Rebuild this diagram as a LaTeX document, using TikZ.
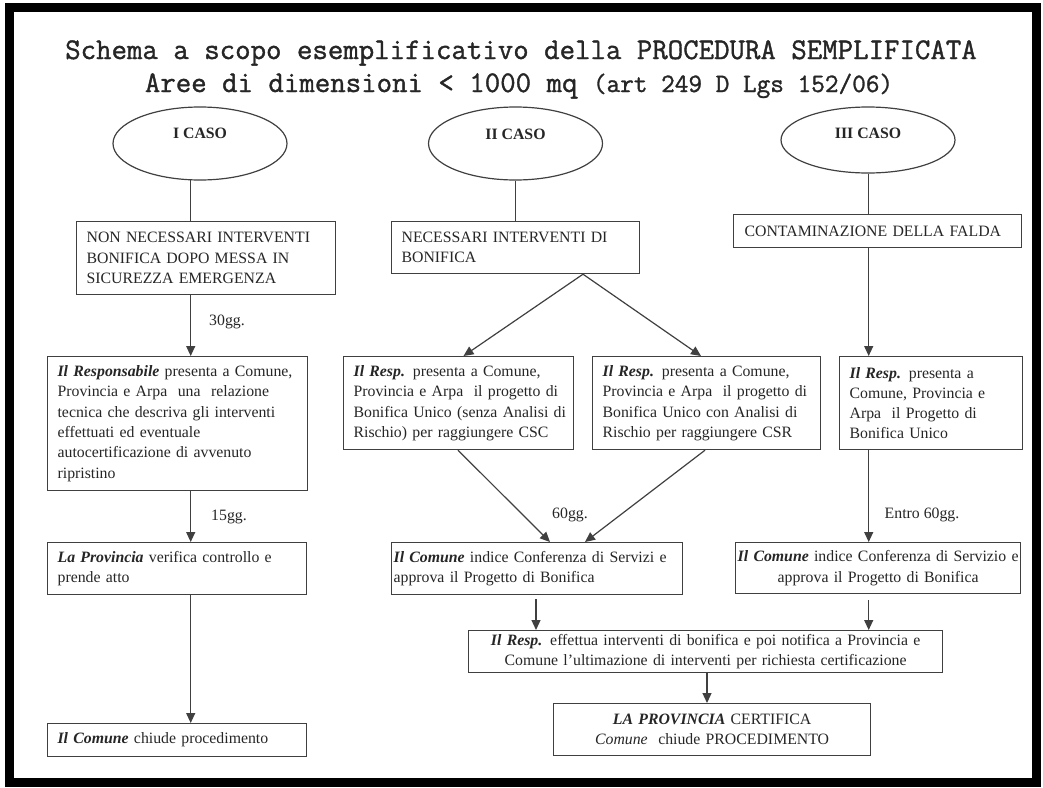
\documentclass[tikz,border=0pt]{standalone}
\usepackage{fontspec}
\setmainfont{Liberation Serif}
\newfontfamily\titlefont[FakeBold=1.2]{Latin Modern Mono}
\usetikzlibrary{arrows.meta,shapes.geometric}
\newcommand\rl[1]{\mbox{#1}}
\newcommand\bi[1]{\textbf{\textit{#1}}}
\begin{document}
\begin{tikzpicture}[x=1pt,y=-1pt,
  every node/.style={text=black!85},
  ln/.style={draw=black!75, line width=1.2pt},
  arr/.style={ln, -{Triangle[length=10pt,width=9pt]}},
  pbox/.style={draw=black!75, line width=1.2pt, rectangle, anchor=north west, inner xsep=10pt, inner ysep=0pt, align=left, font=\fontsize{15.8}{20.3}\selectfont},
  cbox/.style={pbox, align=center},
  oval/.style={draw=black!75, line width=1.2pt, ellipse, minimum width=174pt, minimum height=73pt, inner sep=0pt, font=\fontsize{15.8}{19}\selectfont\bfseries},
  lbl/.style={font=\fontsize{15.8}{19}\selectfont, inner sep=0pt},
  ttl/.style={anchor=base, inner sep=0pt, font=\titlefont\fontsize{30}{34}\selectfont}
]
\useasboundingbox (0,0) rectangle (1043,787);
\fill[white] (0,0) rectangle (1043,787);
\draw[line width=9pt] (9,7.5) rectangle (1036,782);

% title
\node[ttl] (t1) at (521,59) {Schema a scopo esemplificativo della PROCEDURA SEMPLIFICATA};
\node[ttl] (t2) at (519,92) {Aree di dimensioni < 1000 mq {\fontsize{26.5}{28}\selectfont(art 249 D Lgs 152/06)}};

% ovals
\node[oval] (o1) at (200,143.5) {\smash{\raisebox{4.7pt}{I CASO}}};
\node[oval] (o2) at (515.5,143.5) {\smash{\raisebox{3.7pt}{II CASO}}};
\node[oval, minimum height=66pt] (o3) at (868,140) {\smash{\raisebox{1.7pt}{III CASO}}};

% column I
\node[pbox, text width=239pt, minimum height=73pt] (b1) at (76,221)
  {\rl{NON NECESSARI INTERVENTI}\\\rl{BONIFICA DOPO MESSA IN}\\\rl{SICUREZZA EMERGENZA}};
\node[pbox, text width=240pt, minimum height=134pt] (b2) at (47,356)
  {\rl{\bi{Il Responsabile} presenta a Comune,}\\\rl{Provincia e Arpa\ \ una\ \ relazione}\\\rl{tecnica che descriva gli interventi}\\\rl{effettuati ed eventuale}\\\rl{autocertificazione di avvenuto}\\\rl{ripristino}};
\node[pbox, text width=239pt, minimum height=52pt] (b3) at (47,542)
  {\rl{\bi{La Provincia} verifica controllo e}\\\rl{prende atto}};
\node[pbox, text width=239pt, minimum height=33pt] (b4) at (47,723)
  {\rl{\bi{Il Comune} chiude procedimento}};

% column II
\node[pbox, text width=228pt, minimum height=52pt] (c1) at (391,221)
  {\rl{NECESSARI INTERVENTI DI}\\\rl{BONIFICA}};
\node[pbox, text width=210pt, minimum height=93pt] (c2) at (343,356)
  {\rl{\bi{Il Resp.} presenta a Comune,}\\\rl{Provincia e Arpa\ \ il progetto di}\\\rl{Bonifica Unico (senza Analisi di}\\\rl{Rischio) per raggiungere CSC}};
\node[pbox, text width=208pt, minimum height=93pt] (c3) at (592,356)
  {\rl{\bi{Il Resp.} presenta a Comune,}\\\rl{Provincia e Arpa\ \ il progetto di}\\\rl{Bonifica Unico con Analisi di}\\\rl{Rischio per raggiungere CSR}};
\node[pbox, inner xsep=2pt, text width=287pt, minimum height=52pt] (c4) at (391,542)
  {\rl{\bi{Il Comune} indice Conferenza di Servizi e}\\\rl{approva il Progetto di Bonifica}};

% column III
\node[pbox, inner xsep=11pt, text width=266pt, minimum height=33pt] (d1) at (733,214)
  {\rl{CONTAMINAZIONE DELLA FALDA}};
\node[pbox, text width=163pt, minimum height=93pt] (d2) at (839,356)
  {\rl{\bi{Il Resp.} presenta a}\\\rl{Comune, Provincia e}\\\rl{Arpa\ \ il Progetto di}\\\rl{Bonifica Unico}};
\node[cbox, inner xsep=1pt, text width=283pt, minimum height=51pt] (d3) at (735,542)
  {\rl{\bi{Il Comune} indice Conferenza di Servizio e}\\\rl{approva il Progetto di Bonifica}};

% bottom
\node[cbox, text width=454pt, minimum height=42pt] (e1) at (468,630)
  {\rl{\bi{Il Resp.} effettua interventi di bonifica e poi notifica a Provincia e}\\\rl{Comune l'ultimazione di interventi per richiesta certificazione}};
\node[cbox, text width=297pt, minimum height=52pt] (e2) at (553,703)
  {\rl{\bi{LA PROVINCIA} CERTIFICA}\\\rl{\textit{Comune}\ \ chiude PROCEDIMENTO}};

% labels
\node[lbl] (l30) at (227,322) {30gg.};
\node[lbl] (l15) at (229,517) {15gg.};
\node[lbl] (l60) at (570,515) {60gg.};
\node[lbl] (le60) at (922,515) {Entro 60gg.};

% x positions of connectors
\coordinate (xA) at (190.7,0);
\coordinate (xD) at (868.7,0);
\coordinate (cA) at (583,0);
\coordinate (cL) at (463.5,0);
\coordinate (cR) at (701,0);
\coordinate (c2x) at (458,0);
\coordinate (c3x) at (705,0);
\coordinate (c4L) at (550,0);
\coordinate (c4R) at (585,0);
\coordinate (xE) at (536,0);
\coordinate (xF) at (707,0);

% connectors
\draw[ln] (o1.255.5) -- (o1.255.5 |- b1.north);
\draw[arr] (b1.south -| xA) -- (b2.north -| xA);
\draw[arr] (b2.south -| xA) -- (b3.north -| xA);
\draw[arr] (b3.south -| xA) -- (b4.north -| xA);

\draw[ln] (o2.south) -- (o2.south |- c1.north);
\draw[arr] (c1.south -| cA) -- (c2.north -| cL);
\draw[arr] (c1.south -| cA) -- (c3.north -| cR);
\draw[arr] (c2.south -| c2x) -- (c4.north -| c4L);
\draw[arr] (c3.south -| c3x) -- (c4.north -| c4R);

\draw[ln] (o3.south -| xD) -- (d1.north -| xD);
\draw[arr] (d1.south -| xD) -- (d2.north -| xD);
\draw[arr] (d2.south -| xD) -- (d3.north -| xD);

\draw[arr, shorten <=4pt] (c4.south -| xE) -- (e1.north -| xE);
\draw[arr, shorten <=6pt] (d3.south -| xD) -- (e1.north -| xD);
\draw[arr] (e1.south -| xF) -- (e2.north -| xF);
\end{tikzpicture}
\end{document}
